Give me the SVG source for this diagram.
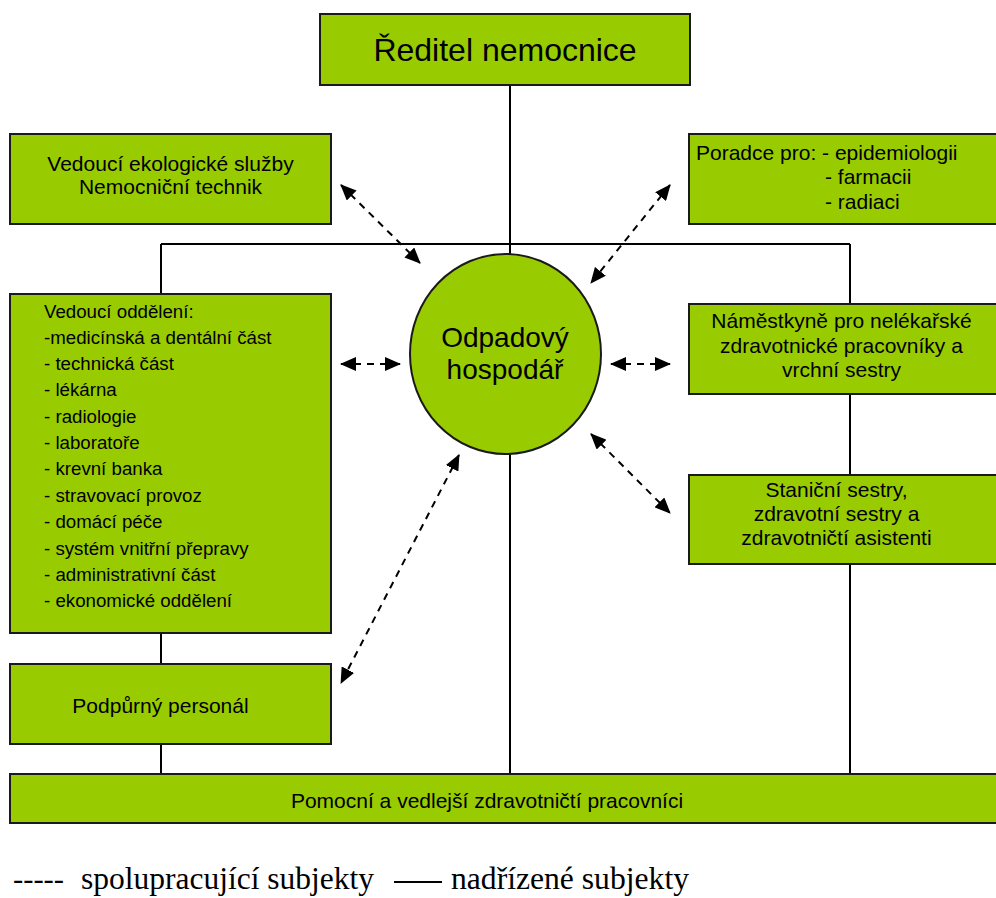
<svg xmlns="http://www.w3.org/2000/svg" width="996" height="898" viewBox="0 0 996 898">
<style>
.box{fill:#99cc00;stroke:#1a1a1a;stroke-width:2}
.t{font-family:"Liberation Sans",Arial,sans-serif;fill:#000}
.c{text-anchor:middle}
.s21{font-size:21px}
.s19{font-size:18.7px}
.solid{stroke:#000;stroke-width:2;fill:none}
.dash{stroke:#000;stroke-width:2;fill:none;stroke-dasharray:7 6;marker-start:url(#ah);marker-end:url(#ah)}
.leg{font-family:"Liberation Serif","Times New Roman",serif;font-size:31.5px;fill:#000}
</style>
<defs>
<marker id="ah" viewBox="0 0 16 14" refX="15" refY="7" markerWidth="16" markerHeight="14" markerUnits="userSpaceOnUse" orient="auto-start-reverse">
<path d="M0,0 L16,7 L0,14 z" fill="#000"/>
</marker>
</defs>
<rect width="996" height="898" fill="#fff"/>
<g id="connectors">
<line class="solid" x1="510" y1="85" x2="510" y2="254"/>
<line class="solid" x1="161" y1="244" x2="850" y2="244"/>
<line class="solid" x1="161" y1="244" x2="161" y2="294"/>
<line class="solid" x1="850" y1="244" x2="850" y2="304"/>
<line class="solid" x1="161" y1="633" x2="161" y2="664"/>
<line class="solid" x1="161" y1="744" x2="161" y2="774"/>
<line class="solid" x1="510" y1="454" x2="510" y2="774"/>
<line class="solid" x1="850" y1="394" x2="850" y2="475"/>
<line class="solid" x1="850" y1="564" x2="850" y2="774"/>
<line class="dash" x1="341" y1="185" x2="420" y2="263"/>
<line class="dash" x1="670" y1="185" x2="591" y2="283"/>
<line class="dash" x1="341" y1="364" x2="400" y2="364"/>
<line class="dash" x1="611" y1="364" x2="670" y2="364"/>
<line class="dash" x1="591" y1="434" x2="670" y2="513"/>
<line class="dash" x1="459" y1="455" x2="341" y2="683"/>
</g>
<g id="reditel">
<rect class="box" x="320" y="14" width="370" height="71"/>
<text class="t c" x="505" y="61" font-size="32">Ředitel nemocnice</text>
</g>
<g id="ekolog">
<rect class="box" x="10" y="134" width="321" height="90"/>
<text class="t c s21" x="170.5" y="171">Vedoucí ekologické služby</text>
<text class="t c s21" x="170.5" y="194">Nemocniční technik</text>
</g>
<g id="poradce">
<rect class="box" x="689" y="134" width="320" height="90"/>
<text class="t s21" x="696" y="160">Poradce pro: - epidemiologii</text>
<text class="t s21" x="825" y="184">- farmacii</text>
<text class="t s21" x="825" y="209">- radiaci</text>
</g>
<g id="odpadovy">
<ellipse class="box" cx="505.5" cy="354" rx="95.5" ry="100"/>
<text class="t c" x="505" y="347" font-size="28">Odpadový</text>
<text class="t c" x="505" y="379" font-size="28">hospodář</text>
</g>
<g id="oddeleni">
<rect class="box" x="10" y="294" width="321" height="339"/>
<text class="t s19" x="44" y="318">Vedoucí oddělení:</text>
<text class="t s19" x="44" y="343.5">-medicínská a dentální část</text>
<text class="t s19" x="44" y="370">- technická část</text>
<text class="t s19" x="44" y="396.3">- lékárna</text>
<text class="t s19" x="44" y="422.7">- radiologie</text>
<text class="t s19" x="44" y="449">- laboratoře</text>
<text class="t s19" x="44" y="475.4">- krevní banka</text>
<text class="t s19" x="44" y="501.8">- stravovací provoz</text>
<text class="t s19" x="44" y="528.2">- domácí péče</text>
<text class="t s19" x="44" y="554.6">- systém vnitřní přepravy</text>
<text class="t s19" x="44" y="581">- administrativní část</text>
<text class="t s19" x="44" y="607.4">- ekonomické oddělení</text>
</g>
<g id="namestkyne">
<rect class="box" x="689" y="304" width="320" height="90"/>
<text class="t c s21" x="841.5" y="328">Náměstkyně pro nelékařské</text>
<text class="t c s21" x="841.5" y="352.7">zdravotnické pracovníky a</text>
<text class="t c s21" x="841.5" y="376.7">vrchní sestry</text>
</g>
<g id="stanicni">
<rect class="box" x="689" y="475" width="320" height="89"/>
<text class="t c s21" x="836.5" y="497">Staniční sestry,</text>
<text class="t c s21" x="836.5" y="521">zdravotní sestry a</text>
<text class="t c s21" x="836.5" y="545">zdravotničtí asistenti</text>
</g>
<g id="podpurny">
<rect class="box" x="10" y="664" width="321" height="80"/>
<text class="t c s21" x="160.5" y="713">Podpůrný personál</text>
</g>
<g id="pomocni">
<rect class="box" x="10" y="774" width="999" height="49"/>
<text class="t c s21" x="487" y="808">Pomocní a vedlejší zdravotničtí pracovníci</text>
</g>
<g id="legend">
<text class="leg" x="13" y="889" textLength="51" lengthAdjust="spacingAndGlyphs">-----</text>
<text class="leg" x="81" y="889" textLength="293" lengthAdjust="spacingAndGlyphs">spolupracující subjekty</text>
<line class="solid" x1="394" y1="882" x2="442" y2="882"/>
<text class="leg" x="451" y="889" textLength="238" lengthAdjust="spacingAndGlyphs">nadřízené subjekty</text>
</g>
</svg>
